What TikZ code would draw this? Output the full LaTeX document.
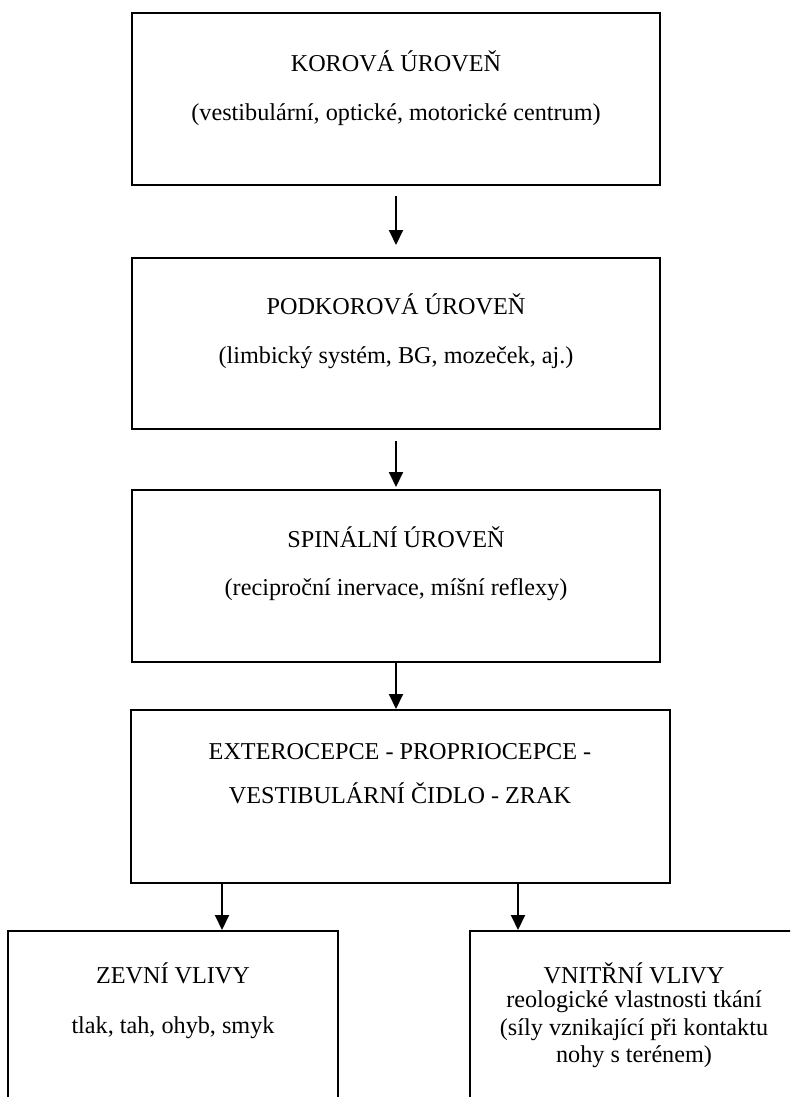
\documentclass[tikz,border=0pt]{standalone}
\usepackage{fontspec}
\setmainfont{Liberation Serif}
\usetikzlibrary{arrows.meta}
\begin{document}
\begin{tikzpicture}[x=1pt,y=-1pt,
  box/.style={draw,line width=2pt,rectangle,inner sep=0pt},
  txt/.style={inner sep=0pt,font=\fontsize{24.2}{27}\selectfont,anchor=center},
  arr/.style={line width=2pt,-{Triangle[width=14pt,length=15pt]}}]
\clip (0,0) rectangle (790,1097);
\fill[white] (0,0) rectangle (790,1097);
% boxes
\node[box,minimum width=528pt,minimum height=172pt] (b1) at (396,99) {};
\node[box,minimum width=528pt,minimum height=171pt] (b2) at (396,343.5) {};
\node[box,minimum width=528pt,minimum height=172pt] (b3) at (396,576) {};
\node[box,minimum width=539pt,minimum height=173pt] (b4) at (400.5,796.5) {};
\node[box,minimum width=330pt,minimum height=220pt] (bl) at (173,1041) {};
\node[box,minimum width=330pt,minimum height=220pt] (br) at (635,1041) {};
% texts
\node[txt] (t1a) at (396,61) {KOROVÁ ÚROVEŇ};
\node[txt] (t1b) at (396,115) {(vestibulární, optické, motorické centrum)};
\node[txt] (t2a) at (396,304) {PODKOROVÁ ÚROVEŇ};
\node[txt] (t2b) at (396,358) {(limbický systém, BG, mozeček, aj.)};
\node[txt] (t3a) at (396,537) {SPINÁLNÍ ÚROVEŇ};
\node[txt] (t3b) at (396,590) {(reciproční inervace, míšní reflexy)};
\node[txt] (t4a) at (400,752) {EXTEROCEPCE - PROPRIOCEPCE -};
\node[txt] (t4b) at (400,793) {VESTIBULÁRNÍ ČIDLO - ZRAK};
\node[txt] (tla) at (173,973) {ZEVNÍ VLIVY};
\node[txt] (tlb) at (173,1028) {tlak, tah, ohyb, smyk};
\node[txt] (tra) at (634,973) {VNITŘNÍ VLIVY};
\node[txt] (trb) at (634,1002) {reologické vlastnosti tkání};
\node[txt] (trc) at (634,1030) {(síly vznikající při kontaktu};
\node[txt] (trd) at (634,1057) {nohy s terénem)};
% arrows
\draw[arr,shorten <=10pt,shorten >=12pt] (b1.south) -- (b2.north);
\draw[arr,shorten <=11pt,shorten >=2pt] (b2.south) -- (b3.north);
\draw[arr] (b3.south) -- (b3.south |- b4.north);
\coordinate (c1) at (222,883);
\coordinate (c2) at (518,883);
\draw[arr] (c1) -- (c1 |- bl.north);
\draw[arr] (c2) -- (c2 |- br.north);
\end{tikzpicture}
\end{document}
